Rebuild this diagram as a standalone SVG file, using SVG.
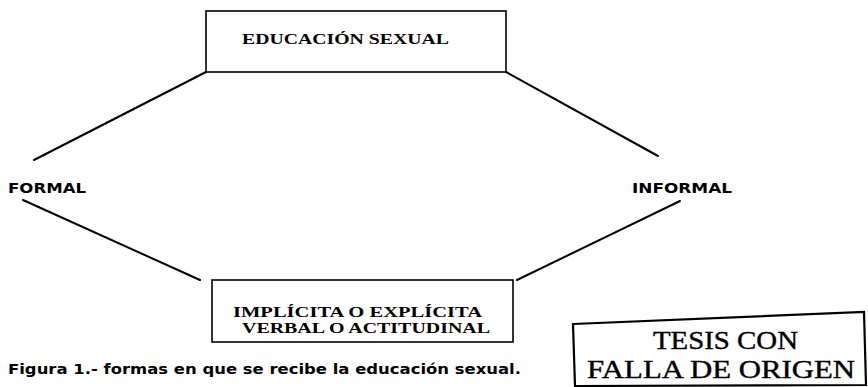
<svg xmlns="http://www.w3.org/2000/svg" width="868" height="387" viewBox="0 0 868 387">
<style>
.box{fill:none;stroke:#000;stroke-width:1.6}
.ln{stroke:#000;stroke-width:2;fill:none;stroke-linecap:round}
.serif{font-family:"Liberation Serif","DejaVu Serif",serif;font-weight:bold;fill:#000}
.sans{font-family:"DejaVu Sans","Liberation Sans",sans-serif;font-weight:bold;fill:#000}
.stamp{font-family:"Liberation Serif","DejaVu Serif",serif;fill:#000;stroke:#000;stroke-width:0.4}
</style>
<rect width="868" height="387" fill="#fff"/>
<g id="connectors">
<line class="ln" x1="206" y1="72" x2="34" y2="160"/>
<line class="ln" x1="506" y1="72" x2="658" y2="156"/>
<line class="ln" x1="23" y1="200" x2="200" y2="280"/>
<line class="ln" x1="680" y1="201" x2="517" y2="280"/>
</g>
<g id="educacion">
<rect class="box" x="206" y="11" width="300" height="61"/>
<text class="serif" x="242" y="44" font-size="15" textLength="207" lengthAdjust="spacingAndGlyphs">EDUCACIÓN SEXUAL</text>
</g>
<g id="formal">
<text class="sans" x="8" y="193" font-size="13.5" textLength="78" lengthAdjust="spacingAndGlyphs">FORMAL</text>
</g>
<g id="informal">
<text class="sans" x="632" y="193" font-size="13.5" textLength="100" lengthAdjust="spacingAndGlyphs">INFORMAL</text>
</g>
<g id="implicita">
<rect class="box" x="212" y="280" width="301" height="62"/>
<text class="serif" x="233" y="317" font-size="14" textLength="249" lengthAdjust="spacingAndGlyphs">IMPLÍCITA O EXPLÍCITA</text>
<text class="serif" x="242" y="333" font-size="14" textLength="248" lengthAdjust="spacingAndGlyphs">VERBAL O ACTITUDINAL</text>
</g>
<g id="caption">
<text class="sans" x="8" y="374" font-size="13.5" textLength="513" lengthAdjust="spacingAndGlyphs">Figura 1.- formas en que se recibe la educación sexual.</text>
</g>
<g id="stamp">
<path d="M573,324 L864,312 L866,385 L575,386 Z" fill="none" stroke="#000" stroke-width="2.2"/>
<text class="stamp" x="653" y="349" font-size="26" textLength="145" lengthAdjust="spacingAndGlyphs">TESIS CON</text>
<text class="stamp" x="587" y="378" font-size="26" textLength="268" lengthAdjust="spacingAndGlyphs">FALLA DE ORIGEN</text>
</g>
</svg>
